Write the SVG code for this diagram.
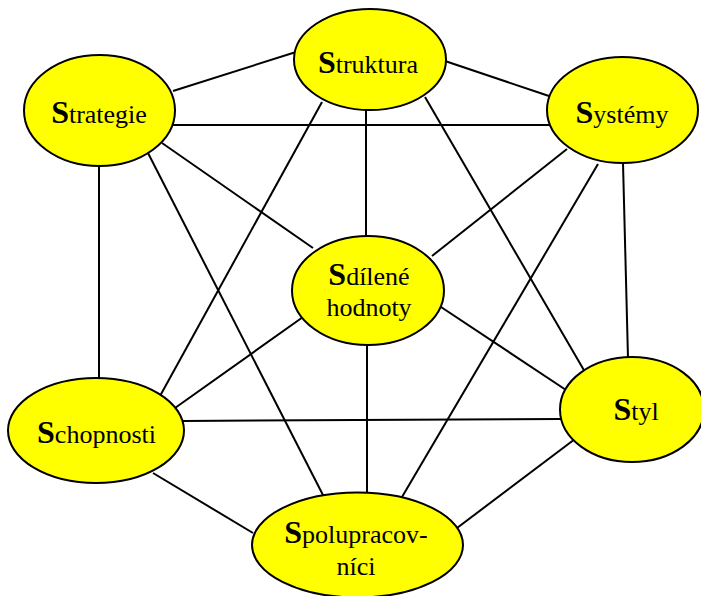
<svg xmlns="http://www.w3.org/2000/svg" width="701" height="596" viewBox="0 0 701 596">
<style>
.bg{fill:#ffffff}
.edge{stroke:#000;stroke-width:2;fill:none}
.node ellipse{fill:#ffff00;stroke:#000;stroke-width:2}
.node text{font-family:"Liberation Serif","Times New Roman",serif;font-size:26px;fill:#000;text-anchor:middle}
.cap{font-weight:bold;font-size:32px}
</style>
<rect class="bg" x="0" y="0" width="701" height="596"/>
<g id="connectors">
<line class="edge" x1="173" y1="91" x2="296" y2="52"/>
<line class="edge" x1="445" y1="61" x2="549" y2="96"/>
<line class="edge" x1="173" y1="125" x2="549" y2="125"/>
<line class="edge" x1="162" y1="143" x2="313" y2="248"/>
<line class="edge" x1="99" y1="165" x2="99" y2="379"/>
<line class="edge" x1="148" y1="153" x2="324" y2="497"/>
<line class="edge" x1="366" y1="109" x2="366" y2="237"/>
<line class="edge" x1="322" y1="102" x2="160" y2="396"/>
<line class="edge" x1="425" y1="97" x2="585" y2="372"/>
<line class="edge" x1="567" y1="149" x2="432" y2="256"/>
<line class="edge" x1="623" y1="163" x2="628" y2="358"/>
<line class="edge" x1="598" y1="164" x2="402" y2="497"/>
<line class="edge" x1="303" y1="317" x2="175" y2="408"/>
<line class="edge" x1="441" y1="307" x2="566" y2="390"/>
<line class="edge" x1="367" y1="344" x2="367" y2="494"/>
<line class="edge" x1="183" y1="421" x2="561" y2="419"/>
<line class="edge" x1="153" y1="473" x2="253" y2="533"/>
<line class="edge" x1="575" y1="439" x2="457" y2="528"/>
</g>
<g id="strategie" class="node">
<ellipse cx="99.5" cy="110.5" rx="75.5" ry="55.5"/>
<text x="99" y="123"><tspan class="cap">S</tspan>trategie</text>
</g>
<g id="struktura" class="node">
<ellipse cx="370" cy="59.5" rx="76" ry="50.5"/>
<text x="368" y="73"><tspan class="cap">S</tspan>truktura</text>
</g>
<g id="systemy" class="node">
<ellipse cx="622.5" cy="110" rx="75.5" ry="53"/>
<text x="622" y="123"><tspan class="cap">S</tspan>ystémy</text>
</g>
<g id="sdilene-hodnoty" class="node">
<ellipse cx="368" cy="290.5" rx="76" ry="54.5"/>
<text x="369" y="285"><tspan class="cap">S</tspan>dílené</text>
<text x="369" y="316">hodnoty</text>
</g>
<g id="schopnosti" class="node">
<ellipse cx="96" cy="430.5" rx="88" ry="52.5"/>
<text x="96.5" y="443"><tspan class="cap">S</tspan>chopnosti</text>
</g>
<g id="styl" class="node">
<ellipse cx="632" cy="409.5" rx="72" ry="52.5"/>
<text x="636" y="420"><tspan class="cap">S</tspan>tyl</text>
</g>
<g id="spolupracovnici" class="node">
<ellipse cx="357.5" cy="545" rx="105.5" ry="52.5"/>
<text x="356" y="543"><tspan class="cap">S</tspan>polupracov-</text>
<text x="356" y="575">níci</text>
</g>
</svg>
